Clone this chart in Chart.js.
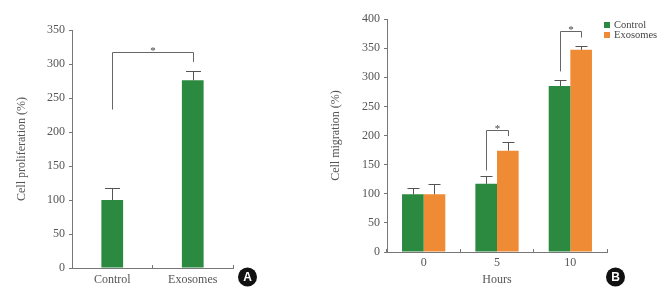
<!DOCTYPE html>
<html>
<head>
<meta charset="utf-8">
<script src="https://cdn.jsdelivr.net/npm/chart.js@4.4.0/dist/chart.umd.min.js"></script>
<style>
  html, body { margin: 0; padding: 0; background: #fff; }
  #wrap { position: relative; width: 667px; height: 299px; overflow: hidden; }
  #a { position: absolute; left: 0; top: 0; }
  #b { position: absolute; left: 320px; top: 0; }
</style>
</head>
<body>
<div id="wrap">
  <canvas id="a" width="320" height="299"></canvas>
  <canvas id="b" width="347" height="299"></canvas>
</div>
<script>
// panel A
const groupsA = ['Control', 'Exosomes'];
const valuesA = [100, 276];
const errorsA = [18, 14];
// bracket A: left leg start, top line, right leg end
const bracketLowA = [233];
const bracketTopA = [318];
const bracketHighA = [303];

// panel B
const hours = ['0', '5', '10'];
const controlB = [99, 117, 285];
const controlErrB = [11, 14, 10];
const exosomesB = [99, 174, 347];
const exosomesErrB = [18, 14, 6];
const bracketIdxB = [1, 2];
const bracketLowB = [140, 310];
const bracketTopB = [210, 380];
const bracketHighB = [199, 368];

const green = '#2b8a3f';
const orange = '#ef8b35';
const textCol = '#555';
const axisCol = '#777';
const serif = "'Liberation Serif', 'Times New Roman', serif";
const font12 = { family: serif, size: 12 };

const errorBars = {
  id: 'errorBars',
  afterDatasetsDraw(chart, args, opts) {
    const ctx = chart.ctx, y = chart.scales.y;
    ctx.save();
    ctx.strokeStyle = '#555';
    ctx.lineWidth = 1;
    chart.data.datasets.forEach((ds, d) => {
      chart.getDatasetMeta(d).data.forEach((bar, i) => {
        const top = Math.round(y.getPixelForValue(ds.data[i] + ds.errors[i])) + 0.5;
        const x = Math.round(bar.x) + 0.5;
        ctx.beginPath();
        ctx.moveTo(x, bar.y);
        ctx.lineTo(x, top);
        ctx.moveTo(x - opts.cap / 2, top);
        ctx.lineTo(x + opts.cap / 2, top);
        ctx.stroke();
      });
    });
    ctx.restore();
  }
};

const brackets = {
  id: 'brackets',
  afterDatasetsDraw(chart, args, opts) {
    const ctx = chart.ctx, y = chart.scales.y;
    ctx.save();
    ctx.strokeStyle = '#666';
    ctx.lineWidth = 1;
    ctx.fillStyle = '#444';
    ctx.font = '11px ' + serif;
    ctx.textAlign = 'center';
    ctx.textBaseline = 'alphabetic';
    opts.list.forEach(b => {
      const p1 = chart.getDatasetMeta(b.a[0]).data[b.a[1]];
      const p2 = chart.getDatasetMeta(b.b[0]).data[b.b[1]];
      const x1 = Math.round(p1.x) + 0.5, x2 = Math.round(p2.x) + 0.5;
      const yl = y.getPixelForValue(b.low);
      const yt = Math.round(y.getPixelForValue(b.top)) + 0.5;
      const yh = y.getPixelForValue(b.high);
      ctx.beginPath();
      ctx.moveTo(x1, yl);
      ctx.lineTo(x1, yt);
      ctx.lineTo(x2, yt);
      ctx.lineTo(x2, yh);
      ctx.stroke();
      ctx.fillText('*', (x1 + x2) / 2, yt + 1);
    });
    ctx.restore();
  }
};

const panelTag = {
  id: 'panelTag',
  afterDraw(chart, args, opts) {
    const ctx = chart.ctx;
    ctx.save();
    ctx.fillStyle = '#111';
    ctx.beginPath();
    ctx.arc(opts.x, opts.y, 9.5, 0, Math.PI * 2);
    ctx.fill();
    ctx.fillStyle = '#fff';
    ctx.font = "bold 12px 'Liberation Sans', Arial, sans-serif";
    ctx.textAlign = 'center';
    ctx.textBaseline = 'middle';
    ctx.fillText(opts.text, opts.x, opts.y + 1);
    ctx.restore();
  }
};

const sideLegend = {
  id: 'sideLegend',
  afterDraw(chart, args, opts) {
    if (!opts.show) return;
    const ctx = chart.ctx;
    ctx.save();
    ctx.font = '10.5px ' + serif;
    ctx.textBaseline = 'middle';
    ctx.textAlign = 'left';
    chart.data.datasets.forEach((ds, i) => {
      const yy = opts.y + i * 10;
      ctx.fillStyle = ds.backgroundColor;
      ctx.fillRect(opts.x, yy - 3, 6, 6);
      ctx.fillStyle = '#444';
      ctx.fillText(ds.label, opts.x + 10, yy + 0.5);
    });
    ctx.restore();
  }
};

function yScale(max, title, width, titlePad) {
  return {
    min: 0,
    max: max,
    ticks: { stepSize: 50, color: textCol, font: font12, padding: 4 },
    grid: { drawOnChartArea: false, tickLength: 3, color: axisCol },
    border: { color: axisCol },
    title: { display: true, text: title, color: textCol, font: font12, padding: { top: titlePad, bottom: 0 } },
    afterFit(s) { s.width = width; }
  };
}

new Chart(document.getElementById('a'), {
  type: 'bar',
  data: {
    labels: groupsA,
    datasets: [{
      label: 'Cell proliferation',
      data: valuesA,
      errors: errorsA,
      backgroundColor: green,
      barPercentage: 0.27,
      categoryPercentage: 1
    }]
  },
  options: {
    responsive: false,
    animation: false,
    layout: { padding: { top: 30, right: 87, bottom: 0, left: 0 } },
    plugins: {
      legend: { display: false },
      tooltip: { enabled: false },
      errorBars: { cap: 15 },
      brackets: {
        list: bracketLowA.map((v, i) => ({ a: [0, 0], b: [0, 1], low: v, top: bracketTopA[i], high: bracketHighA[i] }))
      },
      panelTag: { text: 'A', x: 247.5, y: 277 },
      sideLegend: { show: false }
    },
    scales: {
      x: {
        grid: { drawOnChartArea: false, tickLength: -3, color: axisCol, offset: true },
        border: { color: axisCol },
        ticks: { color: textCol, font: font12, padding: 8 },
        afterFit(s) { s.height = 31; }
      },
      y: yScale(350, 'Cell proliferation (%)', 72, 15)
    }
  },
  plugins: [errorBars, brackets, panelTag, sideLegend]
});

new Chart(document.getElementById('b'), {
  type: 'bar',
  data: {
    labels: hours,
    datasets: [
      { label: 'Control', data: controlB, errors: controlErrB, backgroundColor: green, barPercentage: 1, categoryPercentage: 0.59 },
      { label: 'Exosomes', data: exosomesB, errors: exosomesErrB, backgroundColor: orange, barPercentage: 1, categoryPercentage: 0.59 }
    ]
  },
  options: {
    responsive: false,
    animation: false,
    layout: { padding: { top: 19, right: 60, bottom: 0, left: 0 } },
    plugins: {
      legend: { display: false },
      tooltip: { enabled: false },
      errorBars: { cap: 12 },
      brackets: {
        list: bracketIdxB.map((idx, i) => ({ a: [0, idx], b: [1, idx], low: bracketLowB[i], top: bracketTopB[i], high: bracketHighB[i] }))
      },
      panelTag: { text: 'B', x: 295.5, y: 277 },
      sideLegend: { show: true, x: 284, y: 25 }
    },
    scales: {
      x: {
        grid: { drawOnChartArea: false, tickLength: -3, color: axisCol, offset: true },
        border: { color: axisCol },
        ticks: { color: textCol, font: font12, padding: 7 },
        title: { display: true, text: 'Hours', color: textCol, font: font12, padding: { top: 0, bottom: 12 } },
        afterFit(s) { s.height = 47; }
      },
      y: yScale(400, 'Cell migration (%)', 67, 9)
    }
  },
  plugins: [errorBars, brackets, panelTag, sideLegend]
});
</script>
</body>
</html>
